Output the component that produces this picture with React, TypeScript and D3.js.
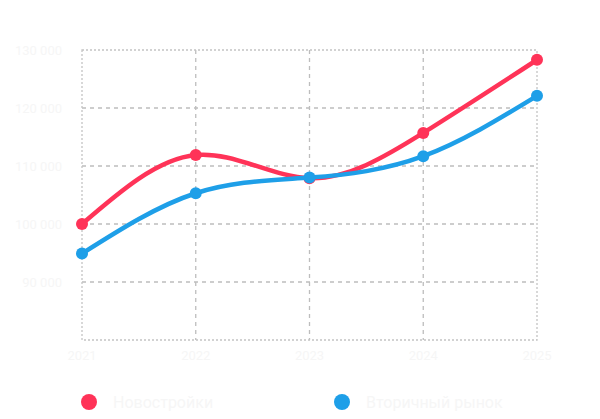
import {useMemo} from 'react'
import * as d3 from 'd3'

const WIDTH = 600
const HEIGHT = 419
const MARGIN = {top: 50, right: 63, bottom: 79, left: 82}

const years = ['2021', '2022', '2023', '2024', '2025']
const newBuildings = [100000, 111900, 107900, 115700, 128300]
const secondary = [94900, 105300, 108000, 111700, 122100]
const yTicks = [80000, 90000, 100000, 110000, 120000, 130000]
const seriesNames = ['Новостройки', 'Вторичный рынок']
const colors = ['#ff3358', '#1e9fe8']

const TEXT = '#f6f6f6'
const FONT = 'Roboto, "Noto Sans", sans-serif'

const fmt = (v: number) => d3.format(',')(v).replace(/,/g, ' ')

export default function App() {
  const boundsWidth = WIDTH - MARGIN.left - MARGIN.right
  const boundsHeight = HEIGHT - MARGIN.top - MARGIN.bottom

  const xScale = useMemo(
    () => d3.scalePoint<string>().domain(years).range([0, boundsWidth]),
    [boundsWidth]
  )
  const yScale = useMemo(
    () => d3.scaleLinear().domain([80000, 130000]).range([boundsHeight, 0]),
    [boundsHeight]
  )

  const line = d3
    .line<number>()
    .x((_, i) => xScale(years[i])!)
    .y(d => yScale(d))
    .curve(d3.curveNatural)

  const series = [newBuildings, secondary]

  return (
    <svg
      width={WIDTH}
      height={HEIGHT}
      style={{position: 'absolute', left: 0, top: 0, background: '#fff'}}>
      <g transform={`translate(${MARGIN.left},${MARGIN.top})`}>
        {/* inner grid */}
        {yTicks.slice(1, -1).map(t => (
          <line
            key={'h' + t}
            x1={0}
            x2={boundsWidth}
            y1={yScale(t)}
            y2={yScale(t)}
            stroke="#bdbdbd"
            strokeWidth={1.3}
            strokeDasharray="4 4"
          />
        ))}
        {years.slice(1, -1).map(y => (
          <line
            key={'v' + y}
            x1={xScale(y)}
            x2={xScale(y)}
            y1={0}
            y2={boundsHeight}
            stroke="#bdbdbd"
            strokeWidth={1.3}
            strokeDasharray="4 4"
          />
        ))}
        <rect
          x={0}
          y={0}
          width={boundsWidth}
          height={boundsHeight}
          fill="none"
          stroke="#c4c4c4"
          strokeWidth={1.3}
          strokeDasharray="2 2"
        />

        {/* y labels */}
        {yTicks.slice(1).map(t => (
          <text
            key={'yl' + t}
            x={-20}
            y={yScale(t)}
            dy="0.35em"
            textAnchor="end"
            fontFamily={FONT}
            fontSize={13}
            fill={TEXT}>
            {fmt(t)}
          </text>
        ))}

        {/* x labels */}
        {years.map(y => (
          <text
            key={'xl' + y}
            x={xScale(y)}
            y={boundsHeight + 20}
            textAnchor="middle"
            fontFamily={FONT}
            fontSize={13}
            fill={TEXT}>
            {y}
          </text>
        ))}

        {series.map((s, i) => (
          <g key={i}>
            <path d={line(s) || ''} fill="none" stroke={colors[i]} strokeWidth={4.5} strokeLinecap="round" />
            {s.map((v, j) => (
              <circle key={j} cx={xScale(years[j])} cy={yScale(v)} r={6} fill={colors[i]} />
            ))}
          </g>
        ))}
      </g>

      {/* legend */}
      {seriesNames.map((name, i) => (
        <g key={name} transform={`translate(${i === 0 ? 89 : 342},402)`}>
          <circle r={8} fill={colors[i]} />
          <text x={24} dy="0.35em" fontFamily={FONT} fontSize={16} fill={TEXT}>
            {name}
          </text>
        </g>
      ))}
    </svg>
  )
}
